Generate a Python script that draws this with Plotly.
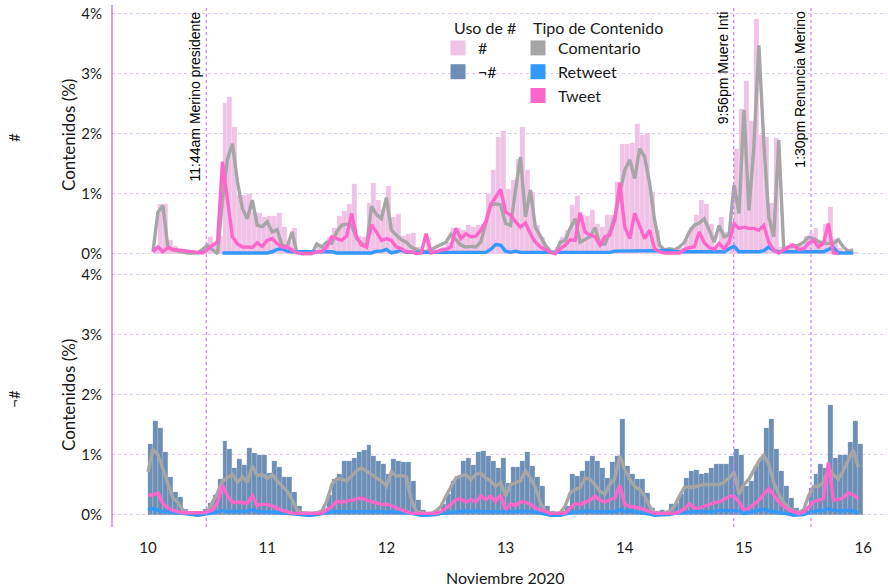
import pandas as pd
import plotly.graph_objects as go
from plotly.subplots import make_subplots

# ---------------------------------------------------------------
# Hourly share of content (%) from 10 Nov 2020 00:00 to 15 Nov 23:00
# ---------------------------------------------------------------
start = pd.Timestamp("2020-11-10 00:00")
hours = pd.date_range(start, periods=144, freq="h")
bar_x = hours + pd.Timedelta(minutes=30)

# Bars: total share per hour, with hashtag (#) and without (¬#)
hash_share = [
    0.00, 0.10, 0.82, 0.82, 0.22, 0.12, 0.07, 0.05, 0.03, 0.03, 0.05, 0.10,
    0.28, 0.20, 0.30, 2.50, 2.60, 2.11, 0.97, 0.97, 1.00, 0.69, 0.67, 0.61,
    0.62, 0.62, 0.67, 0.44, 0.20, 0.43, 0.05, 0.03, 0.03, 0.05, 0.11, 0.14,
    0.28, 0.42, 0.62, 0.71, 0.83, 1.16, 0.30, 0.28, 0.85, 1.17, 0.89, 0.75,
    1.12, 0.61, 0.66, 0.29, 0.33, 0.35, 0.11, 0.07, 0.28, 0.07, 0.06, 0.11,
    0.19, 0.42, 0.43, 0.39, 0.47, 0.44, 0.47, 0.50, 1.00, 1.39, 1.94, 2.04,
    1.08, 1.22, 1.58, 2.11, 1.39, 1.03, 0.47, 0.28, 0.11, 0.04, 0.11, 0.28,
    0.39, 0.81, 0.96, 0.64, 0.62, 0.72, 0.50, 0.44, 0.64, 0.64, 1.20, 1.83,
    1.83, 1.85, 2.15, 1.97, 2.00, 1.03, 0.39, 0.08, 0.05, 0.04, 0.05, 0.10,
    0.22, 0.44, 0.64, 0.90, 0.82, 0.50, 0.11, 0.61, 0.36, 0.50, 1.75, 2.40,
    2.88, 2.20, 3.90, 1.97, 1.94, 0.85, 1.92, 0.11, 0.10, 0.18, 0.12, 0.15,
    0.30, 0.35, 0.42, 0.22, 0.50, 0.77, 0.25, 0.10, 0.05, 0.05, 0.03, 0.00,
]
no_hash_share = [
    1.17, 1.56, 1.44, 1.04, 0.62, 0.37, 0.29, 0.10, 0.05, 0.05, 0.05, 0.10,
    0.20, 0.32, 0.60, 1.22, 1.10, 0.78, 0.93, 0.82, 1.11, 1.02, 1.00, 1.00,
    0.70, 0.90, 0.80, 0.62, 0.62, 0.37, 0.15, 0.05, 0.05, 0.05, 0.05, 0.10,
    0.32, 0.60, 0.68, 0.90, 0.89, 0.95, 1.04, 1.08, 1.16, 0.98, 0.90, 0.84,
    0.67, 0.93, 0.90, 0.87, 0.87, 0.56, 0.25, 0.08, 0.03, 0.03, 0.03, 0.17,
    0.34, 0.56, 0.64, 0.89, 0.95, 0.82, 1.04, 1.06, 0.98, 0.89, 0.78, 0.95,
    0.53, 0.79, 0.79, 0.89, 1.04, 0.81, 0.63, 0.47, 0.14, 0.06, 0.03, 0.06,
    0.14, 0.67, 0.64, 0.73, 0.90, 0.98, 0.90, 0.77, 0.61, 0.88, 0.98, 1.59,
    0.81, 0.67, 0.59, 0.59, 0.36, 0.11, 0.06, 0.08, 0.06, 0.17, 0.20, 0.34,
    0.61, 0.73, 0.75, 0.67, 0.70, 0.78, 0.84, 0.84, 0.84, 0.97, 1.09, 1.00,
    0.47, 0.56, 0.81, 0.95, 1.44, 1.60, 1.09, 0.73, 0.47, 0.28, 0.11, 0.06,
    0.08, 0.45, 0.67, 0.84, 0.78, 1.82, 0.94, 0.99, 0.99, 1.21, 1.56, 1.17,
]

# Lines by content type, hashtag panel
comentario_hash = [
    None, 0.03, 0.69, 0.80, 0.11, 0.06, 0.04, 0.02, 0.01, 0.01, 0.01, 0.07,
    0.14, 0.06, 0.00, 0.90, 1.58, 1.83, 1.20, 0.75, 0.58, 0.89, 0.47, 0.45,
    0.53, 0.36, 0.40, 0.14, 0.11, 0.36, 0.02, 0.00, 0.00, 0.00, 0.16, 0.11,
    0.19, 0.17, 0.36, 0.47, 0.49, 0.47, 0.25, 0.17, 0.11, 0.79, 0.65, 0.58,
    0.93, 0.39, 0.31, 0.23, 0.19, 0.11, 0.07, 0.03, 0.03, 0.07, 0.11, 0.16,
    0.19, 0.32, 0.22, 0.14, 0.11, 0.12, 0.11, 0.19, 0.50, 0.81, 0.83, 0.81,
    0.50, 0.47, 1.06, 1.61, 0.61, 1.06, 0.44, 0.28, 0.14, 0.04, 0.00, 0.19,
    0.22, 0.42, 0.58, 0.19, 0.23, 0.28, 0.43, 0.16, 0.16, 0.36, 0.62, 1.00,
    1.39, 1.56, 1.25, 1.75, 1.61, 1.17, 0.56, 0.14, 0.06, 0.08, 0.06, 0.11,
    0.19, 0.36, 0.47, 0.51, 0.58, 0.39, 0.19, 0.47, 0.28, 0.31, 1.14, 0.67,
    2.39, 0.72, 1.78, 3.47, 1.83, 0.61, 0.28, 1.89, 0.08, 0.11, 0.12, 0.14,
    0.19, 0.27, 0.25, 0.20, 0.17, 0.17, 0.17, 0.23, 0.11, 0.04, 0.06, None,
]
retweet_hash = [
    None, None, None, None, None, None, None, None, None, None, None, None,
    None, None, None, 0.01, 0.01, 0.01, 0.01, 0.01, 0.01, 0.01, 0.01, 0.01,
    0.01, 0.03, 0.07, 0.08, 0.04, 0.03, 0.03, 0.03, 0.03, 0.03, 0.03, 0.03,
    0.03, 0.03, 0.01, 0.01, 0.01, 0.01, 0.01, 0.01, 0.01, 0.01, 0.04, 0.04,
    0.07, 0.01, 0.03, 0.06, 0.02, 0.02, 0.02, 0.02, 0.02, 0.02, 0.02, 0.02,
    0.02, 0.02, 0.02, 0.02, 0.02, 0.02, 0.02, 0.02, 0.02, 0.07, 0.15, 0.14,
    0.04, 0.02, 0.04, 0.02, 0.02, 0.02, 0.02, 0.02, 0.02, 0.02, 0.02, 0.02,
    0.02, 0.02, 0.02, 0.02, 0.02, 0.02, 0.02, 0.02, 0.02, 0.02, 0.04, 0.04,
    0.04, 0.04, 0.04, 0.04, 0.05, 0.05, 0.05, 0.05, 0.05, 0.05, 0.03, 0.03,
    0.03, 0.03, 0.03, 0.03, 0.03, 0.03, 0.03, 0.03, 0.03, 0.08, 0.12, 0.03,
    0.03, 0.03, 0.03, 0.03, 0.05, 0.11, 0.05, 0.03, 0.03, 0.03, 0.03, 0.03,
    0.03, 0.03, 0.03, 0.03, 0.03, 0.07, 0.10, 0.01, 0.01, 0.01, 0.01, None,
]
tweet_hash = [
    None, 0.03, 0.11, 0.03, 0.10, 0.07, 0.06, 0.04, 0.03, 0.02, 0.02, 0.01,
    0.07, 0.14, 0.19, 1.53, 0.89, 0.28, 0.16, 0.11, 0.11, 0.10, 0.18, 0.12,
    0.22, 0.25, 0.17, 0.11, 0.11, 0.06, 0.01, 0.00, 0.00, 0.00, 0.03, 0.03,
    0.11, 0.28, 0.25, 0.22, 0.29, 0.67, 0.28, 0.14, 0.11, 0.48, 0.36, 0.22,
    0.25, 0.22, 0.11, 0.08, 0.03, 0.03, 0.00, 0.01, 0.33, 0.01, 0.03, 0.06,
    0.07, 0.11, 0.42, 0.25, 0.33, 0.28, 0.29, 0.39, 0.53, 0.81, 0.94, 1.07,
    0.69, 0.64, 0.53, 0.44, 0.51, 0.33, 0.19, 0.11, 0.07, 0.02, 0.00, 0.08,
    0.14, 0.23, 0.22, 0.68, 0.36, 0.31, 0.28, 0.14, 0.28, 0.31, 0.56, 1.18,
    0.44, 0.25, 0.67, 0.44, 0.25, 0.39, 0.08, 0.03, 0.01, 0.01, 0.01, 0.01,
    0.07, 0.10, 0.11, 0.36, 0.18, 0.10, 0.07, 0.17, 0.08, 0.19, 0.50, 0.42,
    0.44, 0.42, 0.42, 0.39, 0.47, 0.19, 0.06, 0.01, 0.06, 0.11, 0.14, 0.07,
    0.08, 0.17, 0.22, 0.11, 0.17, 0.50, 0.01, 0.00, None, None, None, None,
]

# Lines by content type, no-hashtag panel
comentario_no_hash = [
    0.71, 1.09, 1.00, 0.75, 0.50, 0.28, 0.20, 0.08, 0.03, 0.02, 0.03, 0.03,
    0.06, 0.20, 0.36, 0.56, 0.61, 0.67, 0.54, 0.63, 0.54, 0.81, 0.65, 0.67,
    0.60, 0.67, 0.56, 0.47, 0.39, 0.25, 0.08, 0.03, 0.02, 0.02, 0.03, 0.06,
    0.22, 0.50, 0.60, 0.59, 0.56, 0.64, 0.73, 0.78, 0.73, 0.67, 0.61, 0.56,
    0.47, 0.71, 0.64, 0.65, 0.63, 0.25, 0.06, 0.03, 0.02, 0.02, 0.06, 0.14,
    0.31, 0.47, 0.61, 0.64, 0.67, 0.58, 0.67, 0.69, 0.61, 0.56, 0.47, 0.53,
    0.31, 0.50, 0.53, 0.56, 0.73, 0.61, 0.45, 0.20, 0.06, 0.03, 0.02, 0.03,
    0.14, 0.36, 0.42, 0.45, 0.61, 0.59, 0.50, 0.39, 0.34, 0.50, 0.61, 0.98,
    0.75, 0.59, 0.47, 0.42, 0.31, 0.14, 0.03, 0.02, 0.02, 0.06, 0.14, 0.31,
    0.45, 0.46, 0.46, 0.48, 0.50, 0.50, 0.50, 0.50, 0.54, 0.61, 0.71, 0.34,
    0.50, 0.59, 0.74, 0.89, 0.99, 0.84, 0.53, 0.34, 0.20, 0.11, 0.06, 0.03,
    0.08, 0.31, 0.47, 0.47, 0.54, 0.78, 0.67, 0.59, 0.73, 0.89, 1.08, 0.79,
]
retweet_no_hash = [
    0.08, 0.10, 0.07, 0.05, 0.05, 0.04, 0.03, 0.02, 0.00, -0.01, -0.01, 0.00,
    0.01, 0.03, 0.05, 0.07, 0.05, 0.05, 0.05, 0.05, 0.06, 0.08, 0.05, 0.05,
    0.04, 0.04, 0.03, 0.03, 0.02, 0.01, 0.00, -0.01, -0.01, -0.01, 0.00, 0.01,
    0.03, 0.05, 0.05, 0.05, 0.05, 0.06, 0.05, 0.06, 0.05, 0.05, 0.05, 0.05,
    0.04, 0.05, 0.04, 0.04, 0.03, 0.02, 0.00, -0.01, -0.01, -0.01, 0.00, 0.02,
    0.03, 0.04, 0.05, 0.05, 0.06, 0.05, 0.06, 0.05, 0.05, 0.05, 0.05, 0.05,
    0.04, 0.05, 0.05, 0.06, 0.06, 0.05, 0.04, 0.03, 0.01, -0.01, -0.01, -0.01,
    0.01, 0.03, 0.04, 0.05, 0.06, 0.06, 0.05, 0.05, 0.05, 0.05, 0.05, 0.08,
    0.05, 0.06, 0.05, 0.04, 0.03, 0.01, -0.01, -0.01, -0.01, 0.00, 0.02, 0.03,
    0.04, 0.05, 0.05, 0.05, 0.05, 0.05, 0.05, 0.07, 0.07, 0.07, 0.06, 0.06,
    0.02, 0.04, 0.05, 0.07, 0.09, 0.06, 0.05, 0.04, 0.02, 0.01, -0.01, -0.01,
    0.00, 0.03, 0.05, 0.07, 0.06, 0.10, 0.07, 0.06, 0.06, 0.07, 0.06, 0.03,
]
tweet_no_hash = [
    0.32, 0.33, 0.36, 0.18, 0.11, 0.07, 0.05, 0.03, 0.03, 0.03, 0.03, 0.03,
    0.05, 0.08, 0.20, 0.49, 0.31, 0.20, 0.21, 0.20, 0.19, 0.31, 0.15, 0.17,
    0.17, 0.14, 0.10, 0.07, 0.05, 0.02, 0.02, 0.02, 0.02, 0.02, 0.02, 0.02,
    0.08, 0.13, 0.22, 0.21, 0.22, 0.24, 0.25, 0.28, 0.24, 0.22, 0.20, 0.17,
    0.17, 0.15, 0.11, 0.08, 0.05, 0.02, 0.02, 0.02, 0.02, 0.02, 0.02, 0.05,
    0.11, 0.17, 0.25, 0.26, 0.21, 0.25, 0.21, 0.31, 0.25, 0.31, 0.22, 0.32,
    0.08, 0.18, 0.15, 0.21, 0.21, 0.17, 0.11, 0.08, 0.05, 0.02, 0.02, 0.02,
    0.02, 0.11, 0.18, 0.17, 0.21, 0.24, 0.31, 0.24, 0.21, 0.25, 0.28, 0.49,
    0.17, 0.14, 0.13, 0.11, 0.08, 0.05, 0.02, 0.02, 0.02, 0.02, 0.02, 0.05,
    0.09, 0.18, 0.11, 0.11, 0.14, 0.17, 0.20, 0.21, 0.25, 0.30, 0.31, 0.21,
    0.08, 0.11, 0.17, 0.24, 0.34, 0.43, 0.32, 0.21, 0.14, 0.08, 0.05, 0.02,
    0.04, 0.13, 0.21, 0.24, 0.26, 0.87, 0.24, 0.25, 0.28, 0.36, 0.33, 0.26,
]

# Key events marked with vertical lines
event_times = ["2020-11-10 11:44", "2020-11-14 21:56", "2020-11-15 13:30"]
event_labels = ["11:44am Merino presidente", "9:56pm Muere Inti", "1:30pm Renuncia Merino"]

use_labels = ["#", "¬#"]
type_labels = ["Comentario", "Retweet", "Tweet"]
y_ticks = [0, 1, 2, 3, 4]
y_tick_text = ["0%", "1%", "2%", "3%", "4%"]
day_ticks = pd.date_range("2020-11-10", "2020-11-16", freq="D")

# ---------------------------------------------------------------
BAR_COLORS = {"#": "#F0C2E6", "¬#": "#6D8FB6"}
LINE_COLORS = {"Comentario": "#A6A6A6", "Retweet": "#3399FF", "Tweet": "#FF66CC"}
FONT = "Lato, 'Open Sans', sans-serif"
TEXT = "#1a1a1a"
VIOLET = "#C77DFF"

fig = make_subplots(rows=2, cols=1, shared_xaxes=True)

panels = [
    (1, "#", hash_share, [comentario_hash, retweet_hash, tweet_hash]),
    (2, "¬#", no_hash_share, [comentario_no_hash, retweet_no_hash, tweet_no_hash]),
]
for row, use, bars, lines in panels:
    fig.add_trace(go.Bar(
        x=bar_x, y=bars, width=3600000, showlegend=False,
        marker=dict(color=BAR_COLORS[use], line=dict(color="rgba(255,255,255,0.45)", width=0.3)),
    ), row=row, col=1)
    for name, values in zip(type_labels, lines):
        fig.add_trace(go.Scatter(
            x=hours, y=values, mode="lines", showlegend=False,
            line=dict(color=LINE_COLORS[name], width=3.4),
        ), row=row, col=1)

# Legend entries drawn as square swatches
for use in use_labels:
    fig.add_trace(go.Scatter(x=[None], y=[None], name=use, legend="legend", mode="markers",
                             marker=dict(color=BAR_COLORS[use], symbol="square", size=15)),
                  row=1, col=1)
for name in type_labels:
    fig.add_trace(go.Scatter(x=[None], y=[None], name=name, legend="legend2", mode="markers",
                             marker=dict(color=LINE_COLORS[name], symbol="square", size=15)),
                  row=1, col=1)

x_range = [start - pd.Timedelta(hours=7.25), start + pd.Timedelta(hours=148.8)]

axis_y = dict(
    range=[-0.14, 4.14], tickvals=y_ticks, ticktext=y_tick_text,
    showgrid=True, gridcolor="#E2C6F3", griddash="dot", gridwidth=1,
    zeroline=False, showline=False, ticks="outside", ticklen=6,
    tickcolor="rgba(0,0,0,0)", tickfont=dict(family=FONT, size=15, color=TEXT),
    automargin=False, fixedrange=True,
)
fig.update_layout(
    yaxis=dict(axis_y, domain=[0.5039, 1.0]),
    yaxis2=dict(axis_y, domain=[0.0, 0.4961]),
    xaxis=dict(range=x_range, showgrid=False, zeroline=False, showline=False,
               showticklabels=False, automargin=False),
    xaxis2=dict(range=x_range, showgrid=False, zeroline=False, showline=False,
                tickvals=day_ticks, tickformat="%d", ticks="outside", ticklen=11,
                tickcolor="rgba(0,0,0,0)",
                tickfont=dict(family=FONT, size=15, color=TEXT), automargin=False),
)

# Axis line on the left spanning both panels
fig.add_shape(type="line", xref="paper", yref="paper", x0=0, x1=0, y0=-0.0077, y1=1.0,
              line=dict(color=VIOLET, width=1.5))

# Event markers
for t, label in zip(event_times, event_labels):
    fig.add_shape(type="line", xref="x", yref="paper", x0=t, x1=t, y0=-0.0077, y1=1.0,
                  line=dict(color=VIOLET, width=1.2, dash="dot"))
    fig.add_annotation(x=t, xref="x", y=0.992, yref="paper", text=label, textangle=-90,
                       xanchor="right", yanchor="top", showarrow=False, xshift=-1,
                       font=dict(family="Liberation Sans, Arial, sans-serif", size=14, color="#000"))

# Panel titles and axis titles
for ypos, use, ycen in [(0.745, "#", 0.749), (0.24, "¬#", 0.247)]:
    fig.add_annotation(x=-0.1265, xref="paper", y=ypos, yref="paper", text=use,
                       textangle=-90, showarrow=False, xanchor="center", yanchor="middle",
                       font=dict(family=FONT, size=15, color=TEXT))
    fig.add_annotation(x=-0.0568, xref="paper", y=ycen, yref="paper", text="Contenidos (%)",
                       textangle=-90, showarrow=False, xanchor="center", yanchor="middle",
                       font=dict(family=FONT, size=17, color=TEXT))
fig.add_annotation(x=0.508, xref="paper", y=-0.106, yref="paper", text="Noviembre 2020",
                   showarrow=False, xanchor="center", yanchor="middle",
                   font=dict(family=FONT, size=16, color=TEXT))

# Legend titles
for xpix, title in [(452, "Uso de #"), (531, "Tipo de Contenido")]:
    fig.add_annotation(x=(xpix - 112) / 775, xref="paper", y=(523 - 27) / 518, yref="paper",
                       text=title, showarrow=False, xanchor="left", yanchor="middle",
                       font=dict(family=FONT, size=16, color=TEXT))

legend_common = dict(
    yanchor="top", xanchor="left", y=(523 - 31) / 518, bgcolor="rgba(0,0,0,0)",
    font=dict(family=FONT, size=16, color=TEXT), tracegroupgap=0,
    itemsizing="trace", itemclick=False, itemdoubleclick=False,
)
fig.update_layout(
    template="none",
    width=888, height=588, autosize=False,
    margin=dict(l=112, r=1, t=5, b=65),
    paper_bgcolor="white", plot_bgcolor="white",
    barmode="overlay", bargap=0,
    showlegend=True,
    legend=dict(legend_common, x=(438 - 112) / 775),
    legend2=dict(legend_common, x=(518 - 112) / 775),
    font=dict(family=FONT, size=15, color=TEXT),
)

fig.write_html("out.html")
